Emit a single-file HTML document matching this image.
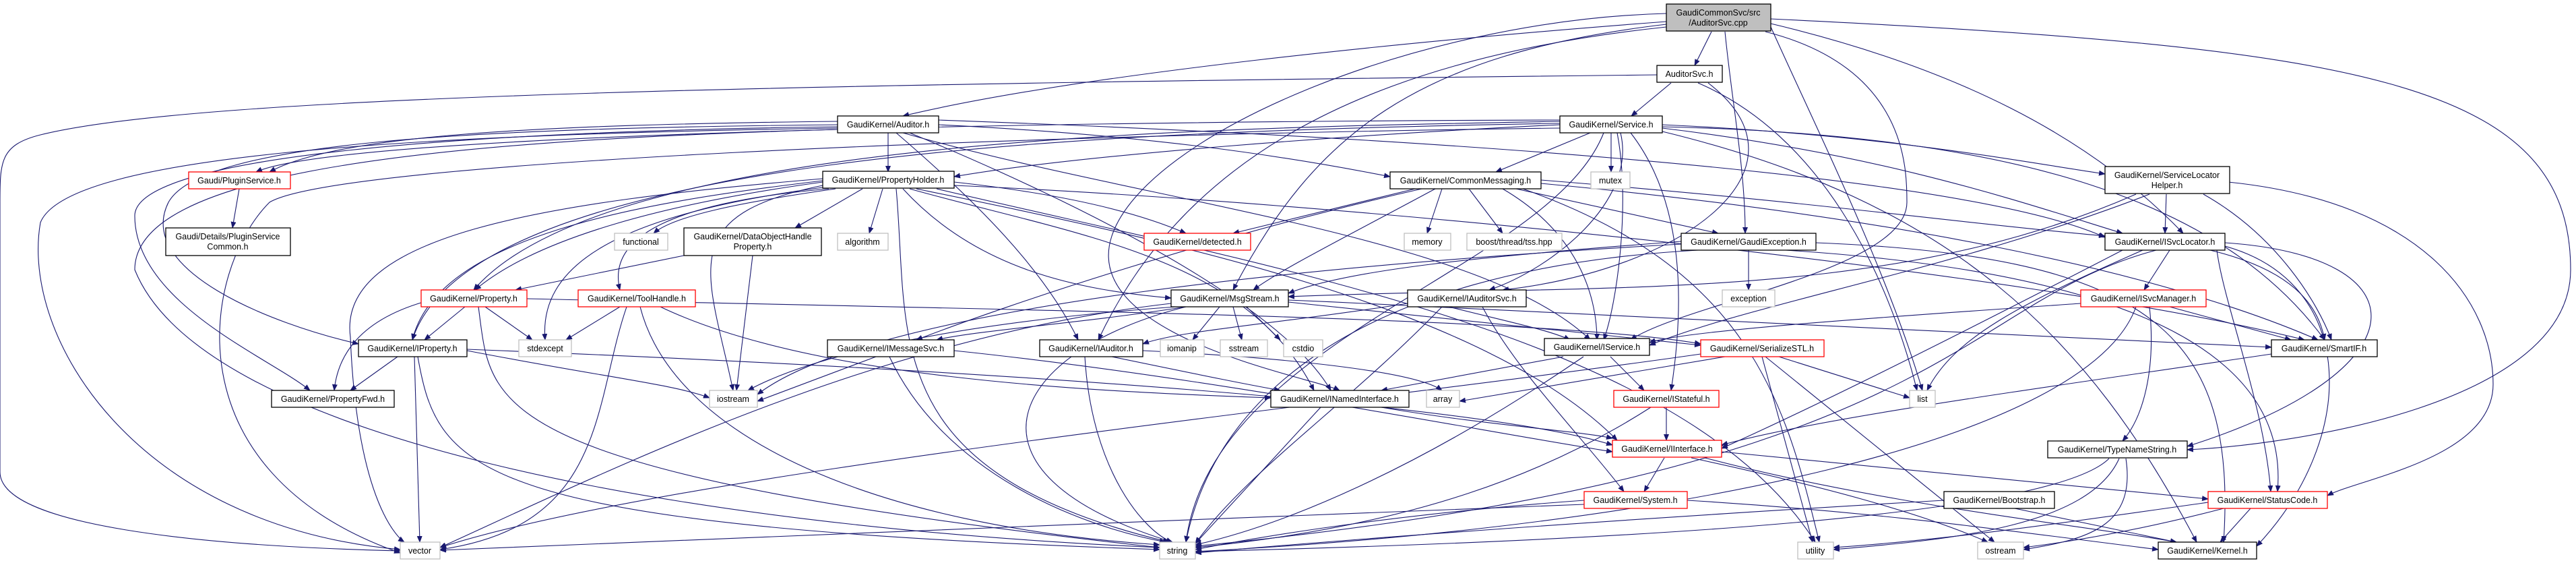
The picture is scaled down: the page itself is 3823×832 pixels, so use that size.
<!DOCTYPE html>
<html><head><meta charset="utf-8"><style>
html,body{margin:0;padding:0;background:#fff;}
svg{display:block;}
text{font-family:"Liberation Sans",sans-serif;font-size:12.5px;fill:#000;text-anchor:middle;}
.e{fill:none;stroke:#191970;stroke-width:1.1;marker-end:url(#a);}
.n{fill:#fff;stroke:#000;stroke-width:1.3;}
.g{fill:#fff;stroke:#bfbfbf;stroke-width:1.3;}
.r{fill:#fff;stroke:#ff0000;stroke-width:1.3;}
</style></head><body>
<svg width="3823" height="832" viewBox="0 0 3823 832" xmlns="http://www.w3.org/2000/svg">
<defs><marker id="a" markerWidth="10" markerHeight="8" refX="9" refY="4" orient="auto" markerUnits="userSpaceOnUse"><path d="M0,0 L10,4 L0,8 z" fill="#191970"/></marker></defs>
<g>
<!-- cpp -->
<path class="e" d="M2540,47 L2515,97"/>
<path class="e" d="M2473,32 C2100,60 1600,110 1340,172"/>
<path class="e" d="M2473,36 C2100,80 1950,200 1830,430"/>
<path class="e" d="M2473,40 C2000,90 1750,250 1630,504"/>
<path class="e" d="M2560,47 C2570,150 2590,250 2590,346"/>
<path class="e" d="M2628,35 C2900,100 3100,200 3240,346"/>
<path class="e" d="M2628,28 C3500,70 3815,120 3815,400 C3815,600 3400,660 3246,667"/>
<path class="e" d="M2628,40 C2700,200 2800,400 2853,579"/>
<path class="e" d="M2620,47 C2830,100 2830,250 2830,300 C2830,400 2500,450 2420,504"/>
<path class="e" d="M2473,20 C2100,30 1700,200 1650,350 C1600,500 1950,560 1988,579"/>
<!-- AuditorSvc.h -->
<path class="e" d="M2480,123 L2421,172"/>
<path class="e" d="M2459,111 C1200,125 300,140 60,200 C0,215 0,240 0,300 L0,700 C0,780 300,810 594,817"/>
<path class="e" d="M2520,123 C2700,200 2800,400 2845,579"/>
<path class="e" d="M2535,123 C2700,250 2500,400 2230,430"/>
<!-- Service.h -->
<path class="e" d="M2360,197 L2220,255"/>
<path class="e" d="M2391,197 L2391,255"/>
<path class="e" d="M2315,185 C2000,200 1600,230 1416,262"/>
<path class="e" d="M2315,180 C1800,190 900,200 703,430"/>
<path class="e" d="M2315,183 C1600,195 700,230 612,504"/>
<path class="e" d="M2467,185 C2800,200 3000,240 3124,258"/>
<path class="e" d="M2467,190 C2800,230 3000,300 3150,346"/>
<path class="e" d="M2467,188 C3000,200 3300,300 3450,504"/>
<path class="e" d="M2400,197 C2420,300 2400,450 2380,504"/>
<path class="e" d="M2405,197 C2430,300 2300,400 2210,430"/>
<path class="e" d="M2315,178 C1500,180 500,200 380,255"/>
<path class="e" d="M2315,190 C1500,200 500,240 400,300 C300,400 250,700 594,820"/>
<path class="e" d="M2380,197 C2300,400 1800,500 1760,804"/>
<path class="e" d="M2467,195 C2900,300 3100,500 3260,804"/>
<path class="e" d="M2420,197 C2500,300 2500,450 2480,579"/>
<!-- Auditor.h -->
<path class="e" d="M1318,197 L1318,255"/>
<path class="e" d="M1393,185 C1700,200 1900,230 2063,262"/>
<path class="e" d="M1330,197 C1450,300 1550,400 1600,504"/>
<path class="e" d="M1243,180 C800,185 500,200 400,255"/>
<path class="e" d="M1243,185 C700,190 300,210 250,300 C200,400 400,480 532,510"/>
<path class="e" d="M1243,188 C700,195 200,230 200,320 C200,450 400,530 460,579"/>
<path class="e" d="M1243,190 C600,200 100,230 60,330 C30,500 200,780 594,815"/>
<path class="e" d="M1243,192 C600,210 200,260 200,400 C300,650 1000,780 1721,812"/>
<path class="e" d="M1393,178 C2000,200 2900,250 3124,352"/>
<path class="e" d="M1340,197 C1700,300 2200,350 2360,504"/>
<path class="e" d="M1350,197 C1600,300 1900,450 1975,579"/>
<!-- PluginService -->
<path class="e" d="M355,280 L345,338"/>
<!-- PropertyHolder -->
<path class="e" d="M1240,280 C1100,300 1000,320 970,346"/>
<path class="e" d="M1280,280 L1180,338"/>
<path class="e" d="M1310,280 L1290,346"/>
<path class="e" d="M1416,270 C1600,290 1700,320 1760,346"/>
<path class="e" d="M1221,270 C1000,300 800,350 705,430"/>
<path class="e" d="M1221,268 C950,300 650,350 612,504"/>
<path class="e" d="M1230,280 C1000,300 900,350 920,430"/>
<path class="e" d="M1221,275 C1000,320 1050,400 1088,579"/>
<path class="e" d="M1221,278 C900,320 800,400 809,504"/>
<path class="e" d="M1221,265 C800,300 500,350 520,500 C530,750 594,800 600,804"/>
<path class="e" d="M1330,280 C1350,500 1300,700 1735,804"/>
<path class="e" d="M1340,280 C1450,400 1600,430 1738,442"/>
<path class="e" d="M1350,280 C1600,350 1850,380 1950,579"/>
<path class="e" d="M1360,280 C1700,350 2200,450 2400,653"/>
<path class="e" d="M1416,275 C2000,300 3000,400 3420,504"/>
<path class="e" d="M1390,280 C1900,400 2500,500 2694,804"/>
<!-- DOHP -->
<path class="e" d="M1015,379 L765,430"/>
<path class="e" d="M1117,379 L1093,579"/>
<!-- CommonMessaging -->
<path class="e" d="M2100,280 L1830,346"/>
<path class="e" d="M2140,280 L2118,346"/>
<path class="e" d="M2180,280 L2230,346"/>
<path class="e" d="M2250,280 L2550,346"/>
<path class="e" d="M2130,280 C2000,350 1900,400 1860,430"/>
<path class="e" d="M2110,280 C1800,350 1500,450 1360,504"/>
<path class="e" d="M2230,280 C2350,350 2370,450 2370,504"/>
<path class="e" d="M2287,267 C2700,300 2900,330 3124,350"/>
<path class="e" d="M2287,272 C2800,320 3200,400 3440,504"/>
<path class="e" d="M2260,280 C2600,400 2650,600 2700,804"/>
<!-- GaudiException -->
<path class="e" d="M2595,371 L2595,430"/>
<path class="e" d="M2520,371 C2000,400 1800,600 1760,804"/>
<path class="e" d="M2495,362 C2000,390 1300,450 1124,585"/>
<path class="e" d="M2650,371 C3100,400 3400,500 3380,729"/>
<path class="e" d="M2695,360 C3200,380 3320,500 3300,804"/>
<path class="e" d="M2495,358 C2200,380 2000,400 1912,435"/>
<!-- ISvcLocator -->
<path class="e" d="M3220,371 L3182,430"/>
<path class="e" d="M3280,371 C3400,400 3440,450 3450,504"/>
<path class="e" d="M3180,371 C3000,450 2900,500 2860,579"/>
<path class="e" d="M3200,371 C2900,450 2900,700 1774,810"/>
<path class="e" d="M3302,360 C3600,380 3600,550 3246,662"/>
<path class="e" d="M3290,371 C3300,450 3360,600 3370,729"/>
<path class="e" d="M3302,365 C3500,420 3500,650 3349,810"/>
<path class="e" d="M3150,371 C2900,500 2700,600 2555,665"/>
<!-- SLH -->
<path class="e" d="M3215,288 L3213,346"/>
<path class="e" d="M3270,288 C3380,350 3440,450 3460,504"/>
<path class="e" d="M3190,288 C2900,400 2600,450 2448,512"/>
<path class="e" d="M3170,288 C2800,450 2400,420 1912,440"/>
<path class="e" d="M3307,270 C3600,300 3700,450 3700,570 C3700,680 3500,710 3454,735"/>
<!-- Property.h -->
<path class="e" d="M690,455 L630,504"/>
<path class="e" d="M628,448 C520,480 500,540 496,579"/>
<path class="e" d="M720,455 L790,504"/>
<path class="e" d="M710,455 C730,600 700,700 1721,812"/>
<path class="e" d="M782,443 C1500,460 2300,470 2524,510"/>
<!-- ToolHandle -->
<path class="e" d="M920,455 L840,504"/>
<path class="e" d="M930,455 C880,600 900,780 653,815"/>
<path class="e" d="M950,455 C1000,650 1300,780 1721,808"/>
<path class="e" d="M980,455 C1200,560 1600,580 1886,590"/>
<!-- IProperty -->
<path class="e" d="M590,529 L520,579"/>
<path class="e" d="M615,529 L623,804"/>
<path class="e" d="M620,529 C650,700 700,780 1721,815"/>
<path class="e" d="M693,520 C900,560 1000,570 1053,590"/>
<path class="e" d="M693,518 C1500,550 2200,600 2393,660"/>
<!-- MsgStream -->
<path class="e" d="M1760,455 C1600,480 1450,490 1390,504"/>
<path class="e" d="M1810,455 L1770,504"/>
<path class="e" d="M1830,455 L1843,504"/>
<path class="e" d="M1850,455 L1900,504"/>
<path class="e" d="M1760,455 C1500,520 1400,700 1740,804"/>
<path class="e" d="M1738,450 C1300,500 900,700 653,812"/>
<path class="e" d="M1912,448 C2200,480 2400,500 2524,512"/>
<path class="e" d="M1912,445 C2500,470 3100,500 3371,515"/>
<path class="e" d="M1745,455 C1400,480 1200,530 1110,579"/>
<!-- IAuditorSvc -->
<path class="e" d="M2150,455 C2250,480 2300,490 2330,504"/>
<path class="e" d="M2200,455 C2250,550 2350,650 2410,729"/>
<path class="e" d="M2140,455 C2000,600 1850,700 1774,806"/>
<path class="e" d="M2089,450 C1900,480 1750,490 1696,510"/>
<!-- ISvcManager -->
<path class="e" d="M3088,450 C2800,470 2500,490 2448,508"/>
<path class="e" d="M3220,455 L3400,504"/>
<path class="e" d="M3190,455 C3200,550 3180,620 3150,654"/>
<path class="e" d="M3170,455 C3100,650 2500,780 1774,818"/>
<!-- IMessageSvc -->
<path class="e" d="M1320,529 C1400,700 1600,780 1730,804"/>
<path class="e" d="M1300,529 L1124,595"/>
<path class="e" d="M1416,520 C1800,560 2200,640 2393,670"/>
<!-- IAuditor -->
<path class="e" d="M1650,529 C1800,560 1850,570 1900,579"/>
<path class="e" d="M1610,529 C1620,700 1700,790 1740,804"/>
<path class="e" d="M1696,520 C1900,530 2100,550 2140,579"/>
<!-- IService -->
<path class="e" d="M2320,529 L2050,579"/>
<path class="e" d="M2390,529 L2440,579"/>
<path class="e" d="M2350,529 C2100,700 1900,780 1774,808"/>
<!-- SerializeSTL -->
<path class="e" d="M2560,529 L2166,595"/>
<path class="e" d="M2640,529 L2834,590"/>
<path class="e" d="M2615,529 L2690,804"/>
<path class="e" d="M2620,529 L2960,804"/>
<path class="e" d="M2524,525 C2000,600 1000,700 653,812"/>
<!-- SmartIF -->
<path class="e" d="M3371,525 C3000,580 2700,620 2555,660"/>
<!-- INamedInterface -->
<path class="e" d="M2050,604 C2200,630 2350,640 2393,650"/>
<path class="e" d="M1960,604 L1774,806"/>
<!-- IStateful -->
<path class="e" d="M2473,604 L2473,653"/>
<path class="e" d="M2450,604 C2300,700 2100,780 1774,812"/>
<!-- IInterface -->
<path class="e" d="M2470,679 L2440,729"/>
<path class="e" d="M2555,670 L3277,740"/>
<path class="e" d="M2530,679 C2800,750 3100,780 3230,804"/>
<path class="e" d="M2510,679 C2700,720 2850,760 2950,804"/>
<!-- TypeNameString -->
<path class="e" d="M3130,680 C3050,760 2500,800 1774,818"/>
<path class="e" d="M3155,680 C3170,780 3100,800 3003,815"/>
<path class="e" d="M3145,680 C3100,780 2900,800 2721,815"/>
<!-- System -->
<path class="e" d="M2351,742 C2100,760 1900,790 1774,815"/>
<path class="e" d="M2351,748 C1800,770 1000,800 653,816"/>
<path class="e" d="M2504,742 C2800,760 3000,790 3203,815"/>
<!-- Bootstrap -->
<path class="e" d="M2885,742 C2400,770 2000,800 1774,820"/>
<path class="e" d="M2990,754 L3230,804"/>
<!-- StatusCode -->
<path class="e" d="M3340,754 L3295,804"/>
<path class="e" d="M3300,754 C3200,780 3100,800 3003,812"/>
<path class="e" d="M3277,745 C3100,770 2900,800 2721,812"/>
</g>
<g>
<rect x="2473" y="6" width="155" height="40" fill="#bfbfbf" stroke="#000" stroke-width="1.3"/>
<text x="2550" y="23">GaudiCommonSvc/src</text><text x="2550" y="38">/AuditorSvc.cpp</text>
<rect class="n" x="2459" y="97" width="97" height="25"/><text x="2507" y="114">AuditorSvc.h</text>
<rect class="n" x="2315" y="172" width="152" height="25"/><text x="2391" y="189">GaudiKernel/Service.h</text>
<rect class="n" x="1243" y="172" width="150" height="25"/><text x="1318" y="189">GaudiKernel/Auditor.h</text>
<rect class="n" x="1221" y="254" width="195" height="25"/><text x="1318" y="271">GaudiKernel/PropertyHolder.h</text>
<rect class="n" x="2063" y="255" width="224" height="25"/><text x="2175" y="272">GaudiKernel/CommonMessaging.h</text>
<rect class="g" x="2361" y="255" width="58" height="25"/><text x="2390" y="272">mutex</text>
<rect class="n" x="3124" y="247" width="185" height="40"/><text x="3216" y="264">GaudiKernel/ServiceLocator</text><text x="3216" y="279">Helper.h</text>
<rect class="r" x="280" y="255" width="151" height="25"/><text x="355" y="272">Gaudi/PluginService.h</text>
<rect class="n" x="246" y="338" width="185" height="41"/><text x="338" y="355">Gaudi/Details/PluginService</text><text x="338" y="370">Common.h</text>
<rect class="g" x="912" y="346" width="79" height="25"/><text x="951" y="363">functional</text>
<rect class="n" x="1015" y="338" width="204" height="41"/><text x="1117" y="355">GaudiKernel/DataObjectHandle</text><text x="1117" y="370">Property.h</text>
<rect class="g" x="1243" y="346" width="75" height="25"/><text x="1280" y="363">algorithm</text>
<rect class="r" x="1698" y="346" width="158" height="25"/><text x="1777" y="363">GaudiKernel/detected.h</text>
<rect class="g" x="2084" y="346" width="69" height="25"/><text x="2118" y="363">memory</text>
<rect class="g" x="2177" y="346" width="141" height="25"/><text x="2247" y="363">boost/thread/tss.hpp</text>
<rect class="n" x="2495" y="346" width="200" height="25"/><text x="2595" y="363">GaudiKernel/GaudiException.h</text>
<rect class="n" x="3124" y="346" width="178" height="25"/><text x="3213" y="363">GaudiKernel/ISvcLocator.h</text>
<rect class="r" x="625" y="430" width="157" height="25"/><text x="703" y="447">GaudiKernel/Property.h</text>
<rect class="r" x="858" y="430" width="174" height="25"/><text x="945" y="447">GaudiKernel/ToolHandle.h</text>
<rect class="n" x="1738" y="430" width="174" height="25"/><text x="1825" y="447">GaudiKernel/MsgStream.h</text>
<rect class="n" x="2089" y="430" width="176" height="25"/><text x="2177" y="447">GaudiKernel/IAuditorSvc.h</text>
<rect class="g" x="2556" y="430" width="78" height="25"/><text x="2595" y="447">exception</text>
<rect class="r" x="3088" y="430" width="186" height="25"/><text x="3181" y="447">GaudiKernel/ISvcManager.h</text>
<rect class="n" x="532" y="504" width="161" height="25"/><text x="612" y="521">GaudiKernel/IProperty.h</text>
<rect class="g" x="770" y="504" width="78" height="25"/><text x="809" y="521">stdexcept</text>
<rect class="n" x="1228" y="504" width="188" height="25"/><text x="1322" y="521">GaudiKernel/IMessageSvc.h</text>
<rect class="n" x="1543" y="504" width="153" height="25"/><text x="1619" y="521">GaudiKernel/IAuditor.h</text>
<rect class="g" x="1722" y="504" width="65" height="25"/><text x="1754" y="521">iomanip</text>
<rect class="g" x="1811" y="504" width="70" height="25"/><text x="1846" y="521">sstream</text>
<rect class="g" x="1905" y="504" width="58" height="25"/><text x="1934" y="521">cstdio</text>
<rect class="n" x="2292" y="502" width="156" height="25"/><text x="2370" y="519">GaudiKernel/IService.h</text>
<rect class="r" x="2524" y="504" width="183" height="25"/><text x="2615" y="521">GaudiKernel/SerializeSTL.h</text>
<rect class="n" x="3371" y="504" width="157" height="25"/><text x="3449" y="521">GaudiKernel/SmartIF.h</text>
<rect class="n" x="403" y="579" width="182" height="25"/><text x="494" y="596">GaudiKernel/PropertyFwd.h</text>
<rect class="g" x="1053" y="579" width="71" height="25"/><text x="1088" y="596">iostream</text>
<rect class="n" x="1886" y="579" width="205" height="25"/><text x="1988" y="596">GaudiKernel/INamedInterface.h</text>
<rect class="g" x="2117" y="579" width="49" height="25"/><text x="2141" y="596">array</text>
<rect class="r" x="2395" y="579" width="156" height="25"/><text x="2473" y="596">GaudiKernel/IStateful.h</text>
<rect class="g" x="2834" y="579" width="38" height="25"/><text x="2853" y="596">list</text>
<rect class="r" x="2393" y="653" width="162" height="25"/><text x="2474" y="670">GaudiKernel/IInterface.h</text>
<rect class="n" x="3039" y="654" width="207" height="25"/><text x="3142" y="671">GaudiKernel/TypeNameString.h</text>
<rect class="r" x="2351" y="729" width="153" height="25"/><text x="2427" y="746">GaudiKernel/System.h</text>
<rect class="n" x="2885" y="729" width="164" height="25"/><text x="2967" y="746">GaudiKernel/Bootstrap.h</text>
<rect class="r" x="3277" y="729" width="177" height="25"/><text x="3365" y="746">GaudiKernel/StatusCode.h</text>
<rect class="g" x="594" y="804" width="59" height="25"/><text x="623" y="821">vector</text>
<rect class="g" x="1721" y="804" width="53" height="25"/><text x="1747" y="821">string</text>
<rect class="g" x="2668" y="804" width="53" height="25"/><text x="2694" y="821">utility</text>
<rect class="g" x="2935" y="804" width="68" height="25"/><text x="2969" y="821">ostream</text>
<rect class="n" x="3203" y="804" width="146" height="25"/><text x="3276" y="821">GaudiKernel/Kernel.h</text>
</g>
</svg>
</body></html>
